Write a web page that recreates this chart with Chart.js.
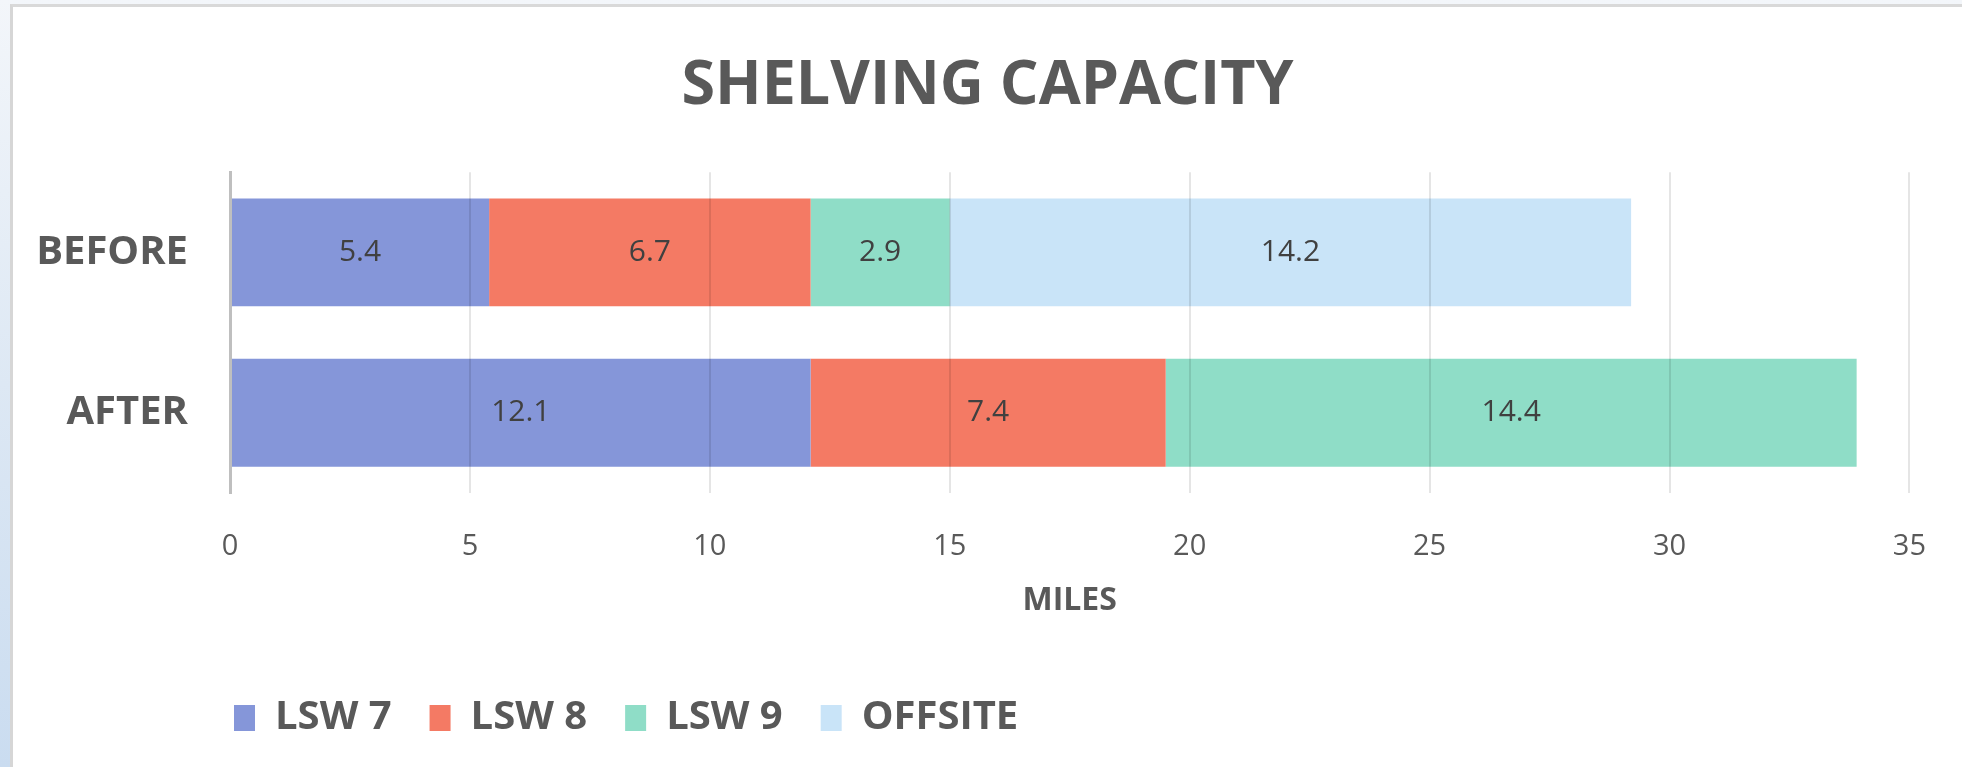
<!DOCTYPE html>
<html>
<head>
<meta charset="utf-8">
<title>Shelving Capacity</title>
<script src="https://cdn.jsdelivr.net/npm/chart.js@4.4.1/dist/chart.umd.min.js"></script>
<style>
  html, body { margin: 0; padding: 0; width: 1962px; height: 767px; overflow: hidden; }
  body { background: linear-gradient(to bottom, #f3f6fa 0%, #dde8f4 50%, #cadcf0 100%); }
  #panel {
    position: absolute; left: 10px; top: 4px;
    width: 1949px; height: 760px; background: #fff;
    border-left: 3px solid #d6d6d6; border-top: 3px solid #d9d9d9;
  }
  #chart { display: block; }
</style>
</head>
<body>
<div id="panel"><canvas id="chart" width="1949" height="760"></canvas></div>
<script>
// chart data
const categories = ["BEFORE", "AFTER"];
const seriesNames = ["LSW 7", "LSW 8", "LSW 9", "OFFSITE"];
const lsw7 = [5.4, 12.1];
const lsw8 = [6.7, 7.4];
const lsw9 = [2.9, 14.4];
const offsite = [14.2, 0];
const xTickValues = [0, 5, 10, 15, 20, 25, 30, 35];

const seriesColors = ["#8596d9", "#f47a64", "#8fddc7", "#c9e4f8"];
const textGrey = "#595959";
const FONT = "'Open Sans', sans-serif";

// value labels in the middle of each bar segment
const barValueLabels = {
  id: "barValueLabels",
  afterDraw(chart) {
    const ctx = chart.ctx;
    ctx.save();
    ctx.font = "30px " + FONT;
    ctx.fillStyle = "#404040";
    ctx.textAlign = "center";
    ctx.textBaseline = "middle";
    chart.data.datasets.forEach((ds, i) => {
      const meta = chart.getDatasetMeta(i);
      meta.data.forEach((bar, j) => {
        const v = ds.data[j];
        if (!v) return;
        const p = bar.getProps(["x", "y", "base"], true);
        ctx.fillText(String(v), (p.x + p.base) / 2, p.y);
      });
    });
    ctx.restore();
  }
};

// title centred on the whole canvas, legend flush with the value axis
const blockPlacement = {
  id: "blockPlacement",
  afterLayout(chart) {
    const t = chart.titleBlock;
    if (t) { t.left = 0; t.right = chart.width; }
    const lg = chart.legend;
    const w = lg.right - lg.left;
    lg.left = chart.chartArea.left - 34;
    lg.right = lg.left + w;
  }
};

const datasets = [lsw7, lsw8, lsw9, offsite].map((values, i) => ({
  label: seriesNames[i],
  data: values,
  backgroundColor: seriesColors[i],
  borderWidth: 0,
  barPercentage: 0.673,
  categoryPercentage: 1.0
}));

new Chart(document.getElementById("chart"), {
  type: "bar",
  data: { labels: categories, datasets: datasets },
  options: {
    indexAxis: "y",
    responsive: false,
    animation: false,
    layout: { padding: { left: 0, right: 51, top: 0, bottom: 19 } },
    scales: {
      x: {
        stacked: true,
        min: xTickValues[0],
        max: xTickValues[xTickValues.length - 1],
        afterBuildTicks(scale) {
          scale.ticks = xTickValues.map(v => ({ value: v }));
        },
        afterFit(scale) { scale.height = 167; },
        grid: { color: "rgba(0,0,0,0.1)", lineWidth: 2, drawTicks: false, z: 1 },
        border: { display: false },
        ticks: { color: textGrey, font: { family: FONT, size: 29 }, padding: 36 },
        title: {
          display: true,
          text: "MILES",
          color: textGrey,
          font: { family: FONT, size: 32, weight: "bold" },
          padding: { top: 0, bottom: 40 }
        }
      },
      y: {
        stacked: true,
        afterFit(scale) { scale.width = 217; },
        grid: { display: false, drawTicks: false },
        border: { display: true, color: "#bfbfbf", width: 3, z: 1 },
        ticks: { color: textGrey, font: { family: FONT, size: 40, weight: "bold" }, padding: 42 }
      }
    },
    plugins: {
      title: {
        display: true,
        text: "SHELVING CAPACITY",
        color: textGrey,
        font: { family: FONT, size: 61, weight: "bold" },
        padding: { top: 43, bottom: 49 }
      },
      legend: {
        position: "bottom",
        align: "start",
        fullSize: false,
        labels: {
          color: textGrey,
          font: { family: FONT, size: 40, weight: "bold" },
          boxWidth: 21,
          boxHeight: 26,
          padding: 38
        }
      },
      tooltip: { enabled: false }
    }
  },
  plugins: [barValueLabels, blockPlacement]
});
</script>
</body>
</html>
